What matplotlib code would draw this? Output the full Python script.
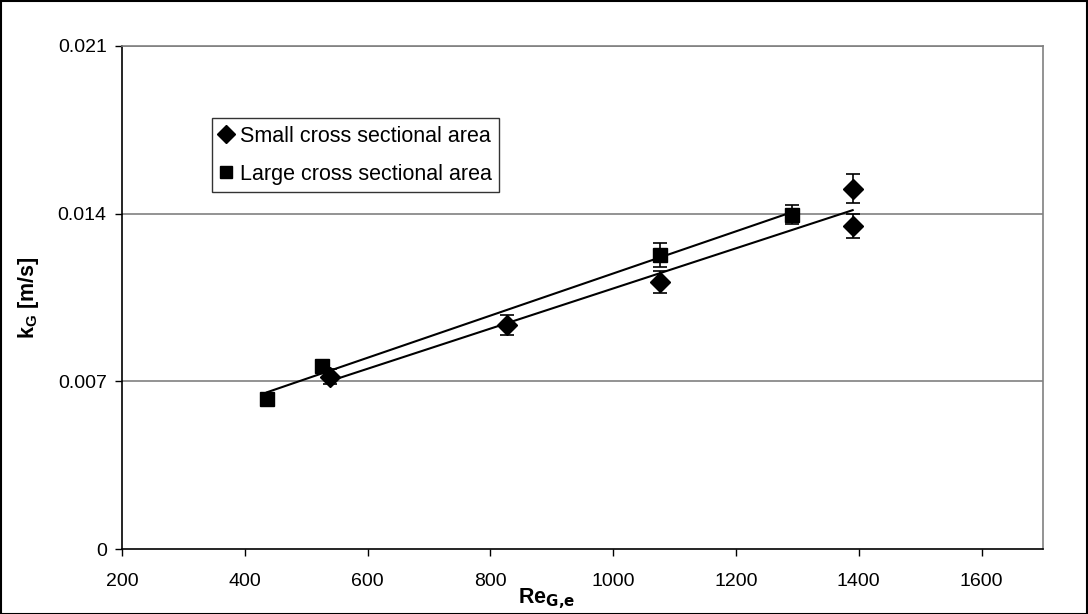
import numpy as np
import matplotlib
matplotlib.use("Agg")
import matplotlib.pyplot as plt
from matplotlib.patches import Rectangle
from matplotlib.lines import Line2D

plt.rcParams['font.family'] = ['Liberation Sans', 'DejaVu Sans']

# Small cross sectional area
re_small = [539, 827, 1076, 1390, 1390]
kg_small = [0.0072, 0.00935, 0.01115, 0.01505, 0.0135]
err_small = [0.0003, 0.0004, 0.00045, 0.0006, 0.0005]

# Large cross sectional area
re_large = [436, 526, 1076, 1292]
kg_large = [0.00625, 0.00763, 0.01228, 0.01396]
err_large = [0.0002, 0.0002, 0.0005, 0.0004]

x_ticks = [200, 400, 600, 800, 1000, 1200, 1400, 1600]
y_ticks = [0, 0.007, 0.014, 0.021]
y_tick_labels = ["0", "0.007", "0.014", "0.021"]

W, H = 1088, 614
fig = plt.figure(figsize=(W / 100, H / 100), dpi=100)
ax = fig.add_axes([122 / W, 1 - 549 / H, (1043 - 122) / W, (549 - 46) / H])

ax.set_xlim(200, 1700)
ax.set_ylim(0, 0.021)

for y in y_ticks[1:]:
    ax.axhline(y, color='#808080', lw=1.2, zorder=1)

# linear trend lines over each series' range
for xs, ys in ((re_small, kg_small), (re_large, kg_large)):
    c = np.polyfit(xs, ys, 1)
    xx = np.array([min(xs), max(xs)])
    ax.plot(xx, np.polyval(c, xx), color='black', lw=1.5, zorder=3)

ax.errorbar(re_small, kg_small, yerr=err_small, fmt='D', color='black',
            ms=10.5, capsize=5, elinewidth=1.2, capthick=1.2, zorder=4)
ax.errorbar(re_large, kg_large, yerr=err_large, fmt='s', color='black',
            ms=10, capsize=5, elinewidth=1.2, capthick=1.2, zorder=4)

ax.set_xticks(x_ticks)
ax.set_xticklabels([str(v) for v in x_ticks])
ax.set_yticks(y_ticks)
ax.set_yticklabels(y_tick_labels)
ax.tick_params(axis='x', direction='out', length=5, width=1, labelsize=14, pad=12)
ax.tick_params(axis='y', direction='out', length=5, width=1, labelsize=14, pad=6)

for s in ('top', 'right'):
    ax.spines[s].set_color('#808080')
    ax.spines[s].set_linewidth(1.2)
for s in ('left', 'bottom'):
    ax.spines[s].set_color('black')
    ax.spines[s].set_linewidth(1.2)

ax.set_ylabel(r'k$_\mathregular{G}$ [m/s]', fontsize=15.5, fontweight='bold', labelpad=12)
fig.text(547 / W, 1 - 599 / H, r'Re$_\mathbf{G{,}e}$', fontsize=15.5, fontweight='bold',
         ha='center', va='center')

handles = [Line2D([], [], ls='none', marker='D', color='black', ms=9),
           Line2D([], [], ls='none', marker='s', color='black', ms=9)]
labels = ['Small cross sectional area', 'Large cross sectional area']
leg = ax.legend(handles, labels, loc='upper left',
                bbox_to_anchor=((212 - 122) / (1043 - 122), 1 - (118 - 46) / (549 - 46)),
                fontsize=15.5, frameon=True, fancybox=False, edgecolor='black',
                handlelength=0.6, handletextpad=0.35, borderpad=0.35,
                labelspacing=0.8, borderaxespad=0)
leg.get_frame().set_linewidth(1.0)

fig.patches.append(Rectangle((0.5 / W, 0.5 / H), 1 - 1.5 / W, 1 - 1.5 / H,
                             transform=fig.transFigure, fill=False,
                             edgecolor='black', lw=1.5))

fig.savefig('out.png', dpi=100)
